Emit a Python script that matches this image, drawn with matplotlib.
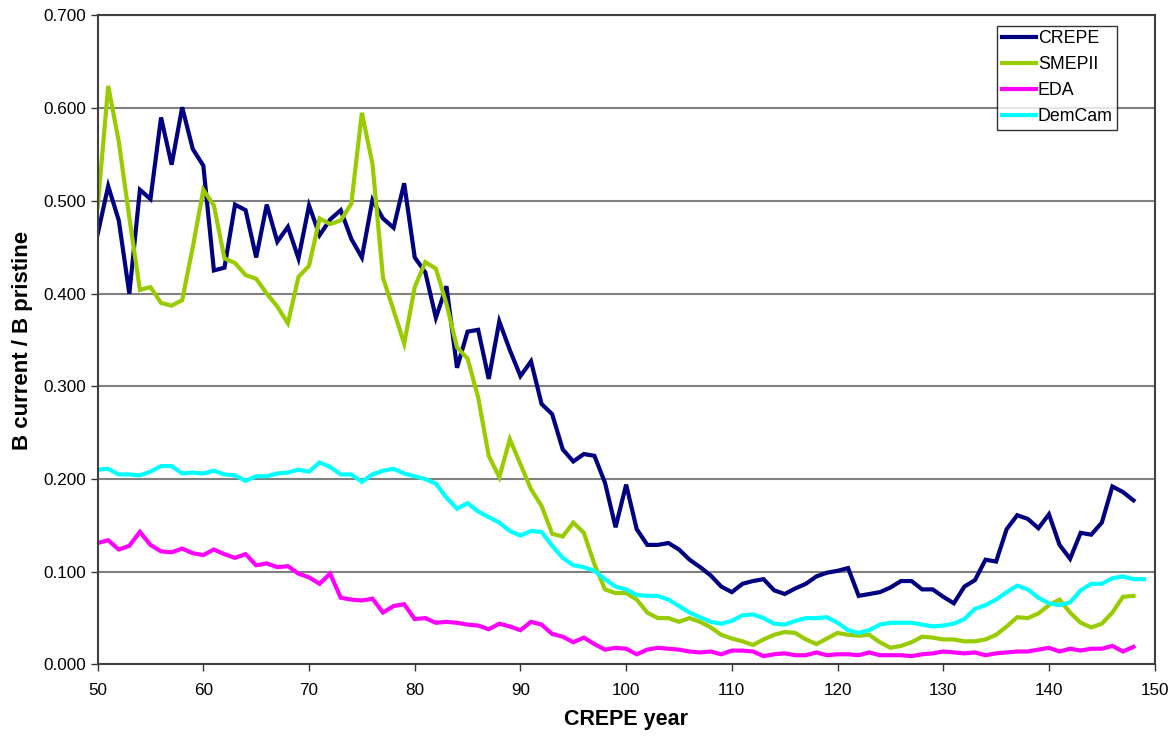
import numpy as np
import matplotlib
matplotlib.use("Agg")
import matplotlib.pyplot as plt

# ---------------------------------------------------------------------------
#  DATA  (one value per CREPE year)
# ---------------------------------------------------------------------------
years = np.arange(50, 149)          # 50 .. 148
years_demcam = np.arange(50, 150)   # 50 .. 149

crepe = [
    0.464, 0.516, 0.479, 0.400, 0.512, 0.502, 0.590, 0.539, 0.601, 0.556,
    0.538, 0.425, 0.428, 0.496, 0.490, 0.439, 0.496, 0.456, 0.472, 0.438,
    0.495, 0.463, 0.480, 0.490, 0.459, 0.439, 0.501, 0.481, 0.471, 0.519,
    0.439, 0.423, 0.374, 0.408, 0.320, 0.359, 0.361, 0.308, 0.370, 0.339,
    0.311, 0.327, 0.281, 0.270, 0.232, 0.219, 0.227, 0.225, 0.196, 0.148,
    0.194, 0.146, 0.129, 0.129, 0.131, 0.124, 0.113, 0.105, 0.096, 0.084,
    0.078, 0.087, 0.090, 0.092, 0.080, 0.076, 0.082, 0.087, 0.095, 0.099,
    0.101, 0.104, 0.074, 0.076, 0.078, 0.083, 0.090, 0.090, 0.081, 0.081,
    0.073, 0.066, 0.084, 0.091, 0.113, 0.111, 0.146, 0.161, 0.157, 0.147,
    0.162, 0.129, 0.114, 0.142, 0.140, 0.153, 0.192, 0.186, 0.177,
]

smepii = [
    0.493, 0.624, 0.564, 0.482, 0.404, 0.407, 0.390, 0.387, 0.393, 0.450,
    0.512, 0.495, 0.438, 0.433, 0.420, 0.416, 0.400, 0.386, 0.368, 0.418,
    0.430, 0.481, 0.475, 0.479, 0.497, 0.595, 0.540, 0.417, 0.382, 0.346,
    0.407, 0.434, 0.427, 0.389, 0.342, 0.330, 0.288, 0.225, 0.202, 0.243,
    0.216, 0.189, 0.171, 0.141, 0.138, 0.153, 0.142, 0.108, 0.081, 0.077,
    0.077, 0.070, 0.056, 0.050, 0.050, 0.046, 0.050, 0.046, 0.040, 0.032,
    0.028, 0.025, 0.021, 0.027, 0.032, 0.035, 0.034, 0.027, 0.022, 0.028,
    0.034, 0.032, 0.031, 0.032, 0.024, 0.018, 0.020, 0.024, 0.030, 0.029,
    0.027, 0.027, 0.025, 0.025, 0.027, 0.032, 0.041, 0.051, 0.050, 0.055,
    0.064, 0.070, 0.056, 0.045, 0.040, 0.044, 0.056, 0.073, 0.074,
]

eda = [
    0.131, 0.134, 0.124, 0.128, 0.143, 0.129, 0.122, 0.121, 0.125, 0.120,
    0.118, 0.124, 0.119, 0.115, 0.119, 0.107, 0.109, 0.105, 0.106, 0.098,
    0.094, 0.087, 0.098, 0.072, 0.070, 0.069, 0.071, 0.056, 0.063, 0.065,
    0.049, 0.050, 0.045, 0.046, 0.045, 0.043, 0.042, 0.038, 0.044, 0.041,
    0.037, 0.046, 0.043, 0.033, 0.030, 0.024, 0.029, 0.022, 0.016, 0.018,
    0.017, 0.011, 0.016, 0.018, 0.017, 0.016, 0.014, 0.013, 0.014, 0.011,
    0.015, 0.015, 0.014, 0.009, 0.011, 0.012, 0.010, 0.010, 0.013, 0.010,
    0.011, 0.011, 0.010, 0.013, 0.010, 0.010, 0.010, 0.009, 0.011, 0.012,
    0.014, 0.013, 0.012, 0.013, 0.010, 0.012, 0.013, 0.014, 0.014, 0.016,
    0.018, 0.014, 0.017, 0.015, 0.017, 0.017, 0.020, 0.014, 0.019,
]

demcam = [
    0.210, 0.211, 0.205, 0.205, 0.204, 0.208, 0.214, 0.214, 0.206, 0.207,
    0.206, 0.209, 0.205, 0.204, 0.198, 0.203, 0.203, 0.206, 0.207, 0.210,
    0.208, 0.218, 0.213, 0.205, 0.205, 0.197, 0.205, 0.209, 0.211, 0.206,
    0.203, 0.200, 0.195, 0.180, 0.168, 0.174, 0.165, 0.159, 0.153, 0.144,
    0.139, 0.144, 0.143, 0.128, 0.115, 0.107, 0.105, 0.101, 0.092, 0.084,
    0.081, 0.075, 0.074, 0.074, 0.070, 0.063, 0.056, 0.051, 0.046, 0.044,
    0.047, 0.053, 0.054, 0.050, 0.044, 0.043, 0.047, 0.050, 0.050, 0.051,
    0.045, 0.037, 0.034, 0.037, 0.043, 0.045, 0.045, 0.045, 0.043, 0.041,
    0.042, 0.044, 0.049, 0.060, 0.064, 0.070, 0.078, 0.085, 0.081, 0.072,
    0.066, 0.064, 0.067, 0.080, 0.087, 0.087, 0.093, 0.095, 0.092, 0.092,
]

series = [
    ("CREPE", years, crepe, "#000080"),
    ("SMEPII", years, smepii, "#99CC00"),
    ("EDA", years, eda, "#FF00FF"),
    ("DemCam", years_demcam, demcam, "#00FFFF"),
]

# ---------------------------------------------------------------------------
#  FIGURE
# ---------------------------------------------------------------------------
plt.rcParams["font.family"] = ["Liberation Sans", "DejaVu Sans"]

fig = plt.figure(figsize=(11.72, 7.37), dpi=100)
ax = fig.add_axes([0.0833, 0.0984, 0.9019, 0.8806])

for name, xs, ys, col in series:
    ax.plot(xs, ys, color=col, lw=3.0, label=name, solid_joinstyle="miter")

ax.set_xlim(50, 150)
ax.set_ylim(0, 0.7)
ax.set_xticks(np.arange(50, 151, 10))
ax.set_yticks(np.arange(0, 0.71, 0.1))
ax.yaxis.set_major_formatter(matplotlib.ticker.FormatStrFormatter("%.3f"))
ax.tick_params(direction="out", length=5, width=1, labelsize=12.3,
               color="#333333")
ax.tick_params(axis="x", pad=8)
ax.grid(axis="y", color="#808080", lw=1.5)
ax.set_axisbelow(True)
for sp in ax.spines.values():
    sp.set_color("#404040")
    sp.set_linewidth(1.5)

ax.set_xlabel("CREPE year", fontsize=15.5, fontweight="bold", labelpad=8)
ax.set_ylabel("B current / B pristine", fontsize=16, fontweight="bold",
              labelpad=7)

leg = ax.legend(loc="upper right", bbox_to_anchor=(0.9645, 0.9838),
                fontsize=12.8, frameon=True, fancybox=False,
                handlelength=1.9, handletextpad=0.12, borderpad=0.25,
                labelspacing=0.5, borderaxespad=0)
leg.get_frame().set_edgecolor("black")
leg.get_frame().set_linewidth(1.0)

fig.savefig("out.png", dpi=100)
